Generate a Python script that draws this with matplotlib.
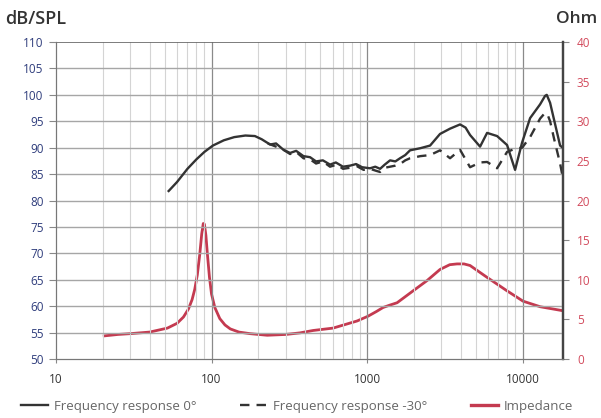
import numpy as np
import matplotlib
matplotlib.use('Agg')
import matplotlib.pyplot as plt
from matplotlib.ticker import FixedLocator, NullFormatter

plt.rcParams['font.family'] = ['Open Sans', 'DejaVu Sans']

# frequency response 0 deg
fr0_freq = [53, 60, 70, 80, 90, 102, 120, 140, 165, 190, 210, 238, 260, 290, 320,
            350, 390, 430, 470, 520, 578, 630, 700, 778, 850, 930, 1045, 1130,
            1213, 1300, 1406, 1520, 1630, 1760, 1890, 2200, 2543, 2946, 3417,
            3963, 4300, 4595, 5330, 5914, 6858, 7950, 8950, 9935, 11180, 12960,
            13950, 14300, 15030, 17430, 18100]
fr0_db = [81.8, 83.5, 86.0, 87.8, 89.2, 90.4, 91.4, 92.0, 92.3, 92.2, 91.6, 90.6,
          90.8, 89.6, 89.0, 89.4, 88.4, 88.2, 87.4, 87.6, 86.8, 87.2, 86.4, 86.6,
          86.9, 86.3, 86.1, 86.4, 86.0, 86.8, 87.6, 87.4, 88.0, 88.6, 89.5, 89.9,
          90.4, 92.6, 93.6, 94.4, 93.8, 92.4, 90.2, 92.8, 92.2, 90.5, 85.8, 91.0,
          95.6, 98.2, 99.8, 100.0, 98.5, 90.4, 90.0]

# frequency response -30 deg
fr30_freq = [230, 260, 290, 320, 350, 390, 430, 470, 520, 578, 640, 700, 778, 860,
             950, 1045, 1150, 1213, 1300, 1406, 1520, 1630, 1760, 1890, 2200, 2543,
             2946, 3417, 3963, 4595, 5330, 5914, 6858, 7950, 8950, 9935, 11180,
             12960, 13950, 14500, 15030, 16000, 17430, 18100]
fr30_db = [90.8, 90.2, 89.6, 88.8, 89.2, 88.0, 87.8, 87.0, 87.4, 86.4, 86.8, 86.0,
           86.2, 86.5, 85.8, 86.0, 85.6, 85.4, 86.2, 86.4, 86.6, 86.9, 87.6, 88.0,
           88.4, 88.6, 89.5, 88.0, 89.6, 86.3, 87.2, 87.3, 86.1, 89.2, 89.8, 90.0,
           92.0, 95.5, 96.6, 96.2, 95.0, 91.5, 87.0, 84.5]

# impedance
imp_freq = [20, 25, 30, 40, 52, 60, 66, 71, 75, 78, 81, 84, 86.5, 88.5, 90, 92, 94,
            97, 100, 105, 113, 122, 132, 150, 177, 228, 300, 371, 450, 604, 863,
            1014, 1150, 1267, 1400, 1560, 1977, 2432, 2946, 3400, 3790, 4200, 4595,
            5914, 7950, 10070, 12960, 16920, 18100]
imp_ohm = [2.9, 3.1, 3.2, 3.4, 3.9, 4.5, 5.3, 6.3, 7.5, 8.8, 10.6, 13.2, 15.8, 17.1,
           17.0, 15.6, 13.3, 10.3, 8.2, 6.5, 5.1, 4.3, 3.8, 3.4, 3.2, 3.0, 3.1, 3.3,
           3.6, 3.9, 4.8, 5.4, 6.0, 6.5, 6.8, 7.1, 8.6, 9.9, 11.3, 11.9, 12.0, 12.0,
           11.8, 10.3, 8.6, 7.3, 6.6, 6.2, 6.1]

db_ticks = list(range(50, 111, 5))
ohm_ticks = list(range(0, 41, 5))
x_ticks = [10, 100, 1000, 10000]
x_labels = ['10', '100', '1000', '10000']

navy = '#2f3d7c'
red = '#d24a5c'
line_c = '#333333'
imp_c = '#c43a50'

fig = plt.figure(figsize=(6.01, 4.18), dpi=100)
ax = fig.add_axes([0.0932, 0.1411, 0.8436, 0.7584])
ax2 = ax.twinx()

ax.set_xscale('log')
ax.set_xlim(10, 18200)
ax.set_ylim(50, 110)
ax2.set_ylim(0, 40)

# grid
minor = [m * 10 ** e for e in range(1, 5) for m in range(2, 10) if m * 10 ** e < 18200]
for f in minor:
    ax.axvline(f, color='#d4d4d4', lw=0.8, zorder=0)
for f in x_ticks[1:]:
    ax.axvline(f, color='#8a8a8a', lw=0.9, zorder=0)
for d in db_ticks[1:-1]:
    ax.axhline(d, color='#a6a6a6', lw=1.0, zorder=0)
ax.axhline(110, color='#666666', lw=1.2, zorder=0)

ax.xaxis.set_major_locator(FixedLocator(x_ticks))
ax.set_xticklabels(x_labels)
ax.xaxis.set_minor_locator(FixedLocator(minor))
ax.xaxis.set_minor_formatter(NullFormatter())
ax.tick_params(axis='x', which='major', length=3, color='#888888', pad=7,
               labelsize=8.5, labelcolor='#333333')
ax.tick_params(axis='x', which='minor', length=0)

ax.set_yticks(db_ticks)
ax.tick_params(axis='y', length=5, color='#888888', pad=4, labelsize=8.5,
               labelcolor=navy)
ax2.set_yticks(ohm_ticks)
ax2.tick_params(axis='y', length=4, color='#888888', pad=6, labelsize=8.5,
                labelcolor=red)

for a in (ax, ax2):
    a.spines['top'].set_visible(False)
    a.spines['left'].set_color('#777777')
    a.spines['bottom'].set_color('#777777')
    a.spines['right'].set_color('#444444')
    a.spines['right'].set_linewidth(1.6)

ax2.plot(imp_freq, imp_ohm, color=imp_c, lw=2.0, solid_capstyle='butt')
ax.plot(fr0_freq, fr0_db, color=line_c, lw=1.7)
ax.plot(fr30_freq, fr30_db, color=line_c, lw=1.7, linestyle=(0, (4, 3)))
ax.set_zorder(ax2.get_zorder() + 1)
ax.patch.set_visible(False)

fig.text(0.008, 0.955, 'dB/SPL', fontsize=13, fontweight='semibold',
         color='#333333', ha='left', va='center')
fig.text(0.993, 0.955, 'Ohm', fontsize=12.5, fontweight='semibold',
         color='#333333', ha='right', va='center')

h1, = ax.plot([], [], color=line_c, lw=1.7)
h2, = ax.plot([], [], color=line_c, lw=1.7, linestyle=(0, (4, 3)))
h3, = ax.plot([], [], color=imp_c, lw=2.4)
fig.legend([h1, h2, h3],
           ['Frequency response 0°', 'Frequency response -30°', 'Impedance'],
           loc='center', bbox_to_anchor=(0.495, 0.028), ncol=3, frameon=False,
           fontsize=9.5, labelcolor='#666666', handlelength=2.0,
           columnspacing=3.3, handletextpad=0.5)

fig.savefig('out.png', dpi=100)
